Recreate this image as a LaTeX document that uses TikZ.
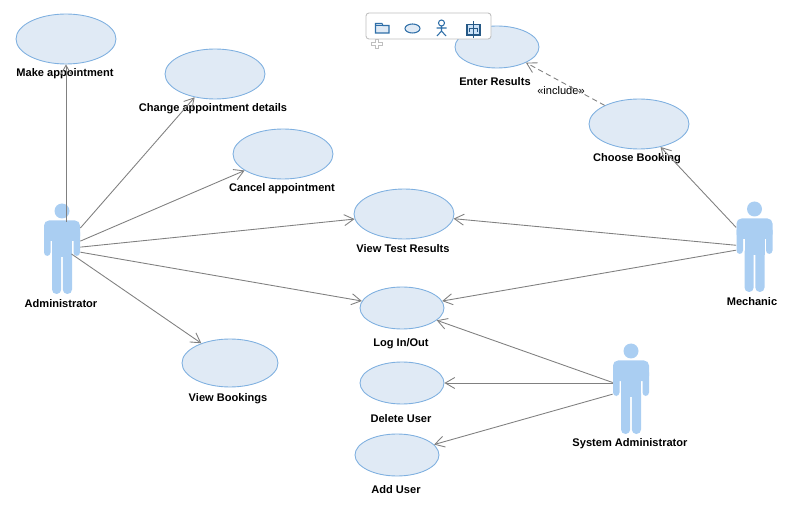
\documentclass[tikz,border=0pt]{standalone}
\usepackage{fontspec}
\setmainfont{Liberation Sans}
\usetikzlibrary{shapes.geometric,arrows.meta}
\definecolor{caseFill}{HTML}{E0EAF5}
\definecolor{caseLine}{HTML}{7FB0E0}
\definecolor{actorBlue}{HTML}{AACEF2}
\definecolor{iconBlue}{HTML}{2F6FA8}
\tikzstyle{caseLarge}=[shape = ellipse, minimum width = 2cm, minimum height = 1cm, inner sep = 0pt, draw = caseLine, fill = caseFill, line width = 0.5pt]
\tikzstyle{caseMid}=[caseLarge, minimum width = 1.92cm, minimum height = 0.96cm]
\tikzstyle{caseSmall}=[caseLarge, minimum width = 1.68cm, minimum height = 0.84cm]
\tikzstyle{caseText}=[font = \bfseries\fontsize{6.3pt}{8pt}\selectfont, inner sep = 0pt]
\tikzstyle{actorBox}=[shape = rectangle, minimum width = 0.72cm, minimum height = 1.08cm, inner sep = 0pt]
\tikzstyle{useEdge}=[draw = black!50, line width = 0.5pt, -{Straight Barb[length=1.9mm,width=2.2mm]}]
\tikzstyle{incEdge}=[useEdge, densely dashed]
\tikzset{actorFig/.pic={
  \fill[actorBlue] (0,-38) circle (7.5);
  \fill[actorBlue, rounded corners=0.1cm] (-18,-28.5) rectangle (18,-8);
  \fill[actorBlue, rounded corners=0.07cm] (-18,-20) rectangle (-11.5,7);
  \fill[actorBlue, rounded corners=0.07cm] (11.5,-20) rectangle (18,7);
  \fill[actorBlue] (-10,-20) rectangle (10,8);
  \fill[actorBlue, rounded corners=0.09cm] (-10,0) rectangle (-0.8,45);
  \fill[actorBlue, rounded corners=0.09cm] (0.8,0) rectangle (10,45);
}}
\begin{document}
\begin{tikzpicture}[x = 0.02cm, y = -0.02cm]
\useasboundingbox (0,0) rectangle (799,510);
% use cases
\node[caseLarge] (makeApp) at (66,39) {};
\node[caseLarge] (changeApp) at (215,74) {};
\node[caseLarge] (cancelApp) at (283,154) {};
\node[caseLarge] (viewTest) at (404,214) {};
\node[caseSmall] (logInOut) at (402,308) {};
\node[caseMid] (viewBook) at (230,363) {};
\node[caseSmall] (deleteUser) at (402,383) {};
\node[caseSmall] (addUser) at (397,455) {};
\node[caseSmall] (enterRes) at (497,47) {};
\node[caseLarge] (chooseBook) at (639,124) {};
% actors
\pic at (62,249) {actorFig};
\pic at (754.5,247) {actorFig};
\pic at (631,389) {actorFig};
\node[actorBox] (admin) at (62,249) {};
\node[actorBox] (mechanic) at (754.5,247) {};
\node[actorBox] (sysAdmin) at (631,389) {};
\coordinate (adminLow) at (71.5,254);
% labels
\node[caseText] (makeAppT) at (65,73.5) {Make appointment};
\node[caseText] (changeAppT) at (213,108.5) {Change appointment details};
\node[caseText] (cancelAppT) at (282,188.5) {Cancel appointment};
\node[caseText] (viewTestT) at (403,248.5) {View Test Results};
\node[caseText] (logInOutT) at (401,343.5) {Log In/Out};
\node[caseText] (viewBookT) at (228,398.5) {View Bookings};
\node[caseText] (deleteUserT) at (401,418.5) {Delete User};
\node[caseText] (addUserT) at (396,489.5) {Add User};
\node[caseText] (enterResT) at (495,81.5) {Enter Results};
\node[caseText] (chooseBookT) at (637,158.5) {Choose Booking};
\node[caseText] (adminT) at (61,303.5) {Administrator};
\node[caseText] (mechanicT) at (752,301.5) {Mechanic};
\node[caseText] (sysAdminT) at (630,443.5) {System Administrator};
\node[caseText, font = \fontsize{6.3pt}{8pt}\selectfont] (includeT) at (561,90.5) {«include»};
% connectors
\draw[useEdge] (makeApp |- admin.north) -- (makeApp);
\draw[useEdge] (admin) -- (changeApp);
\draw[useEdge] (admin) -- (cancelApp);
\draw[useEdge] (admin) -- (viewTest);
\draw[useEdge] (admin) -- (logInOut);
\draw[useEdge] (adminLow) -- (viewBook);
\draw[useEdge] (mechanic) -- (chooseBook);
\draw[useEdge] (mechanic) -- (viewTest);
\draw[useEdge] (mechanic) -- (logInOut);
\draw[useEdge] (sysAdmin) -- (logInOut);
\draw[useEdge] (deleteUser -| sysAdmin.west) -- (deleteUser);
\draw[useEdge] (sysAdmin) -- (addUser);
\draw[incEdge] (chooseBook) -- (enterRes);
% toolbar
\draw[draw = black!25, fill = white, rounded corners = 0.06cm, line width = 0.5pt] (366,13) rectangle (491,39);
\draw[draw = black!25, fill = white, line width = 0.5pt] (375,39.5) -- (378,39.5) -- (378,42) -- (382,42) -- (382,45) -- (378,45) -- (378,48) -- (375,48) -- (375,45) -- (371,45) -- (371,42) -- (375,42) -- cycle;
\draw[draw = iconBlue, fill = caseFill, line width = 0.6pt] (375.5,33) -- (375.5,23.5) -- (382,23.5) -- (383,25.5) -- (389,25.5) -- (389,33) -- cycle;
\draw[draw = iconBlue, line width = 0.6pt] (375.5,25.5) -- (383,25.5);
\draw[draw = iconBlue, fill = caseFill, line width = 0.6pt] (412.5,28.5) ellipse (7.5 and 4.5);
\draw[draw = iconBlue, line width = 0.6pt] (441.5,23) circle (3) (441.5,26) -- (441.5,31) -- (437,36) (441.5,31) -- (446,36) (436.5,28) -- (446.5,28);
\draw[draw = iconBlue!80!black, fill = actorBlue!60, line width = 0.7pt] (467,24.5) rectangle (480,35);
\draw[draw = iconBlue!80!black, line width = 0.7pt] (473.5,21) -- (473.5,38) (469.5,32) -- (469.5,28.5) -- (477.5,28.5) -- (477.5,32);
\end{tikzpicture}
\end{document}
